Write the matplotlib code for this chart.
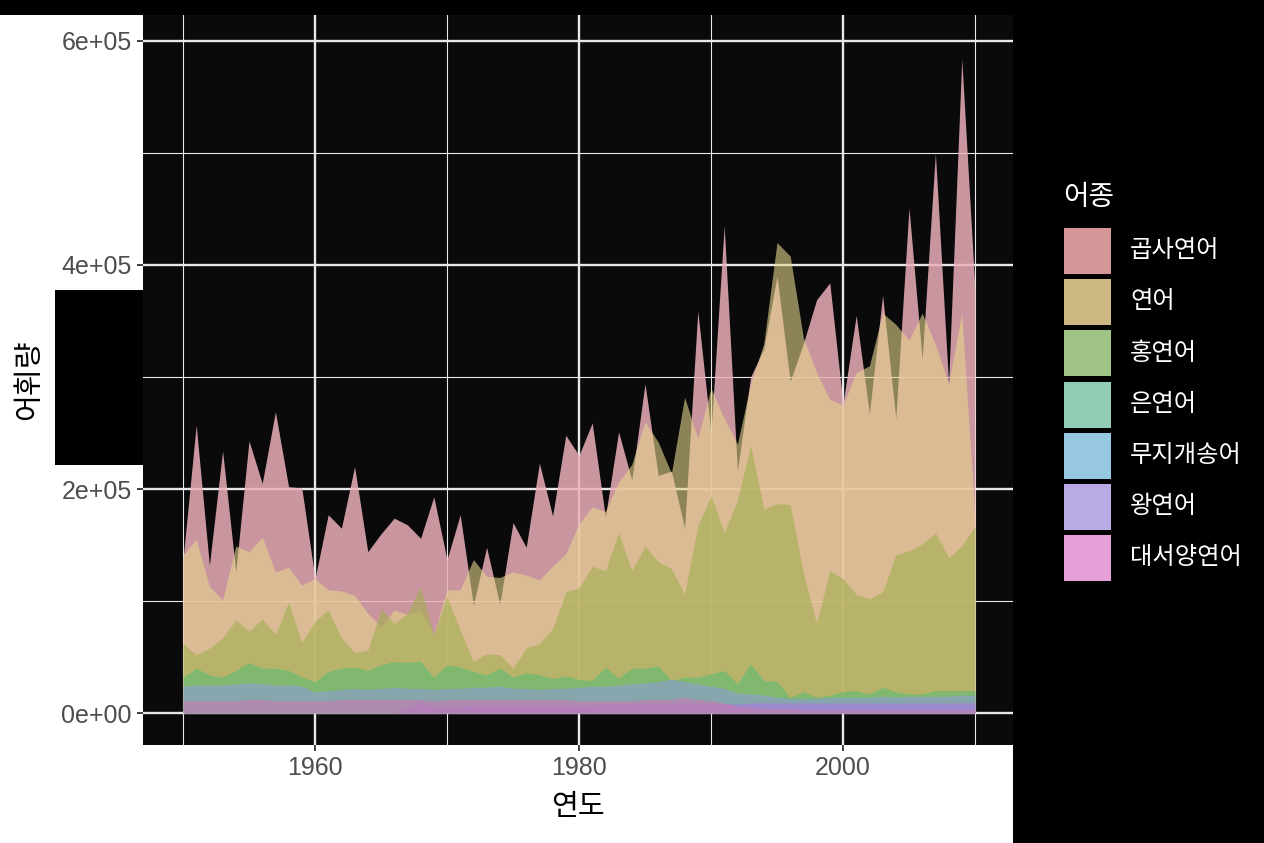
import matplotlib
matplotlib.use("Agg")
import matplotlib.pyplot as plt
from matplotlib.patches import Rectangle
import numpy as np

plt.rcParams['font.family'] = ['Liberation Sans', 'Noto Sans CJK KR', 'DejaVu Sans']

# catch per species, 1950-2010 (in tonnes)
years = list(range(1950, 2011))

pink = [137, 257, 132, 234, 126, 243, 205, 269, 202, 201,
        120, 177, 165, 220, 144, 160, 174, 168, 156, 193,
        137, 177, 96, 148, 97, 170, 148, 223, 176, 248,
        230, 259, 175, 251, 208, 294, 212, 216, 165, 359,
        250, 435, 216, 300, 325, 390, 296, 330, 369, 384,
        276, 355, 267, 373, 263, 451, 316, 500, 294, 584, 378]

chum = [141, 155, 113, 101, 149, 144, 157, 126, 130, 114,
        120, 110, 109, 105, 89, 77, 92, 88, 92, 70,
        110, 110, 137, 122, 121, 126, 123, 119, 131, 142,
        169, 184, 180, 206, 222, 260, 242, 214, 282, 245,
        290, 263, 240, 294, 330, 420, 408, 335, 304, 280,
        275, 304, 310, 357, 347, 333, 357, 329, 294, 357, 175]

sockeye = [62, 52, 58, 67, 83, 73, 84, 70, 99, 63,
           82, 92, 67, 54, 56, 93, 80, 89, 113, 70,
           104, 74, 46, 53, 52, 40, 58, 62, 75, 108,
           112, 131, 127, 161, 127, 149, 135, 129, 106, 167,
           194, 161, 190, 239, 182, 187, 186, 125, 80, 127,
           120, 106, 102, 108, 141, 145, 151, 161, 139, 149, 167]

coho = [32, 40, 34, 32, 38, 45, 40, 40, 38, 32,
        28, 37, 40, 41, 38, 43, 46, 45, 46, 32,
        43, 41, 37, 34, 40, 32, 36, 34, 31, 33,
        30, 29, 41, 31, 40, 40, 42, 29, 32, 32,
        35, 38, 26, 44, 29, 28, 14, 19, 14, 16,
        19, 20, 17, 23, 19, 17, 17, 20, 20, 20, 20]

steelhead = [24, 25, 25, 25, 26, 27, 26, 25, 25, 24,
             19, 20, 21, 22, 21, 22, 23, 22, 22, 21,
             22, 22, 23, 23, 24, 22, 22, 21, 22, 22,
             23, 24, 24, 25, 26, 27, 28, 30, 28, 26,
             24, 22, 18, 17, 16, 14, 13, 13, 13, 14,
             14, 14, 14, 15, 14, 15, 15, 15, 15, 16, 16]

chinook = [0, 0, 0, 0, 0, 0, 0, 0, 0, 0,
           0, 0, 0, 0, 0, 0, 0, 4, 10, 5,
           6, 6, 7, 7, 7, 7, 7, 7, 7, 7,
           7, 7, 8, 8, 8, 8, 8, 8, 9, 8,
           8, 8, 8, 9, 9, 9, 9, 9, 9, 9,
           9, 9, 9, 9, 9, 9, 9, 9, 9, 9, 9]

atlantic = [11, 11, 11, 11, 11, 12, 12, 11, 11, 11,
            11, 11, 12, 12, 12, 12, 12, 12, 12, 11,
            12, 12, 12, 12, 12, 12, 12, 12, 12, 12,
            11, 11, 11, 11, 11, 12, 12, 12, 14, 12,
            11, 9, 6, 5, 4, 4, 4, 3, 3, 3,
            3, 3, 3, 3, 3, 3, 3, 3, 3, 3, 3]

species = ['곱사연어', '연어', '홍연어', '은연어', '무지개송어', '왕연어', '대서양연어']
series = [pink, chum, sockeye, coho, steelhead, chinook, atlantic]

# area colours (tuned so the overlaps look like the original) and legend keys
area_cols = ['#ecb0ba', '#e6d58e', '#a2af4e', '#5abc71', '#8f9ad8', '#a978e0', '#c878b0']
area_alpha = [0.85, 0.6, 0.6, 0.6, 0.6, 0.6, 0.6]
key_cols = ['#d49696', '#cdb782', '#a0c387', '#91cdb4', '#96c8e1', '#b9aae6', '#e6a0d7']

W, H = 1264, 843
fig = plt.figure(figsize=(W / 100, H / 100), dpi=100, facecolor='black')

def fx(px):
    return px / W

def fy(py):
    return 1 - py / H

# odd background blocks of the original
fig.add_artist(Rectangle((0, 0), fx(143), fy(15), transform=fig.transFigure,
                         facecolor='white', edgecolor='none', zorder=0))
fig.add_artist(Rectangle((0, 0), fx(1013), fy(745), transform=fig.transFigure,
                         facecolor='white', edgecolor='none', zorder=0))
fig.add_artist(Rectangle((fx(55), fy(465)), fx(143) - fx(55), fy(290) - fy(465),
                         transform=fig.transFigure, facecolor='black',
                         edgecolor='none', zorder=0))

ax = fig.add_axes([fx(143), fy(745), fx(1013) - fx(143), fy(15) - fy(745)])
ax.set_facecolor('#0a0a0a')

yrs = np.array(years)
for vals, c, a in zip(series, area_cols, area_alpha):
    ax.fill_between(yrs, 0, np.array(vals) * 1000, color=c, alpha=a, linewidth=0, zorder=2)

ax.set_xlim(1946.97, 2012.88)
ax.set_ylim(-28571, 623214)

ax.set_xticks([1960, 1980, 2000])
ax.set_xticks([1950, 1970, 1990, 2010], minor=True)
ax.set_yticks([0, 200000, 400000, 600000])
ax.set_yticks([100000, 300000, 500000], minor=True)
ax.set_yticklabels(['0e+00', '2e+05', '4e+05', '6e+05'])
ax.grid(which='major', color='#e8e8e8', linewidth=1.7, zorder=1)
ax.grid(which='minor', color='#e8e8e8', linewidth=0.8, zorder=1)
ax.set_axisbelow(True)
for s in ax.spines.values():
    s.set_visible(False)
ax.tick_params(which='major', length=4, width=1.3, color='#333333',
               labelsize=18, labelcolor='#4d4d4d', pad=4)
ax.tick_params(which='minor', length=0)

ax.set_xlabel('연도', fontsize=21, color='black')
ax.set_ylabel('어휘량', fontsize=21, color='black')
ax.xaxis.set_label_coords(0.5, -0.066)
ax.yaxis.set_label_coords(-0.115, 0.5)

# legend
fig.text(fx(1063), fy(198), '어종', fontsize=20, color='white', va='center', ha='left')
for i, (name, kc) in enumerate(zip(species, key_cols)):
    top = 228 + i * 51.2
    fig.add_artist(Rectangle((fx(1064), fy(top + 46)), fx(47), fy(top) - fy(top + 46),
                             transform=fig.transFigure, facecolor=kc, edgecolor='none'))
    fig.text(fx(1130), fy(top + 23), name, fontsize=17.5, color='white', va='center', ha='left')

fig.savefig('out.png', dpi=100, facecolor='black')
